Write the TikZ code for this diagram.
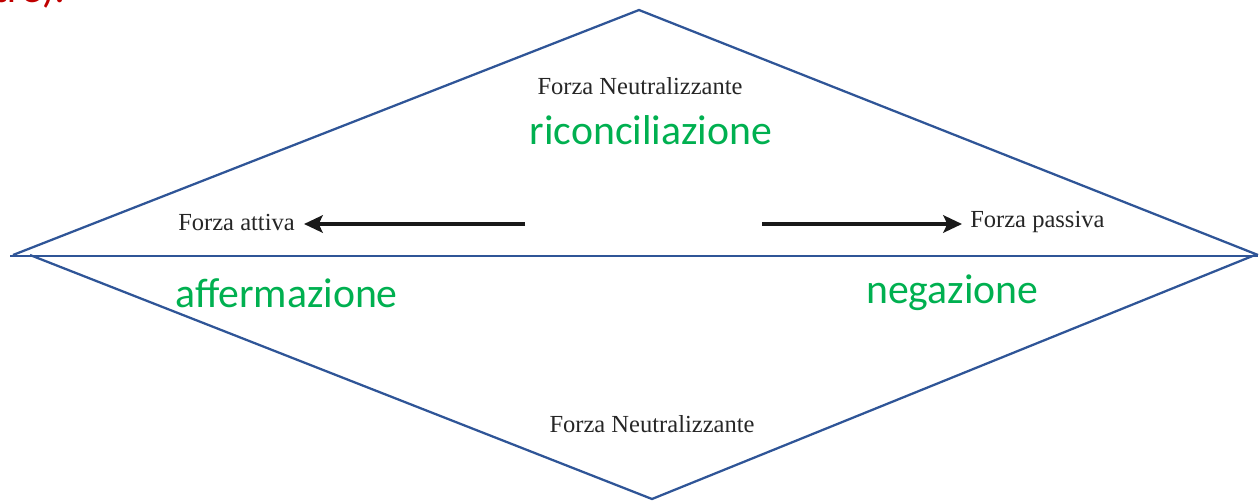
\documentclass[tikz,border=0pt]{standalone}
\usepackage{fontspec}
\setmainfont{Liberation Serif}
\newfontfamily\calib{Carlito}
\usetikzlibrary{arrows.meta}
\definecolor{diablue}{HTML}{2F5597}
\definecolor{okgreen}{HTML}{00B050}
\definecolor{titred}{HTML}{C00000}
\tikzset{
  diag/.style={draw=diablue, line width=1.7pt, line join=miter},
  forza/.style={font=\fontsize{18.4}{20}\selectfont, text=black!85, inner sep=0pt},
  verde/.style={font=\calib\fontsize{31.3}{34}\selectfont, text=okgreen, inner sep=0pt},
  freccia/.style={draw=black!90, line width=3.2pt, -{Stealth[length=14pt,width=13pt,inset=3pt]}},
}
\begin{document}
\begin{tikzpicture}[x=0.75pt,y=-0.75pt]
\useasboundingbox (0,0) rectangle (1260,500);
\clip (0,0) rectangle (1260,500);
% partially cut-off title
\node[font=\calib\fontsize{31}{34}\selectfont, text=titred, anchor=base east, inner sep=0pt] (titolo) at (66,2) {tre):};
% diamonds
\coordinate (TL) at (13,255);
\coordinate (TT) at (639,10);
\coordinate (TR) at (1258,255);
\coordinate (BL) at (30,255);
\coordinate (BB) at (652,499);
\coordinate (BR) at (1255,255);
\coordinate (HL) at (10,256);
\coordinate (HR) at (1258,256);
\draw[diag] (TL) -- (TT) -- (TR);
\draw[diag] (BL) -- (BB) -- (BR);
\draw[diag] (HL) -- (HR);
% texts
\node[forza] (fn1) at (640,86) {Forza Neutralizzante};
\node[verde] (ric) at (651,130) {riconciliazione};
\node[forza, anchor=west] (fa) at (178,222) {Forza attiva};
\node[forza, anchor=west] (fp) at (970,222) {Forza passiva};
\node[verde, anchor=west] (aff) at (175,293) {affermazione};
\node[verde, anchor=west] (neg) at (866,293) {negazione};
\node[forza] (fn2) at (652,424) {Forza Neutralizzante};
% arrows
\coordinate (a1) at (525,224);
\coordinate (a2) at (304,224);
\coordinate (b1) at (762,224);
\coordinate (b2) at (962,224);
\draw[freccia] (a1) -- (a2);
\draw[freccia] (b1) -- (b2);
\end{tikzpicture}
\end{document}
